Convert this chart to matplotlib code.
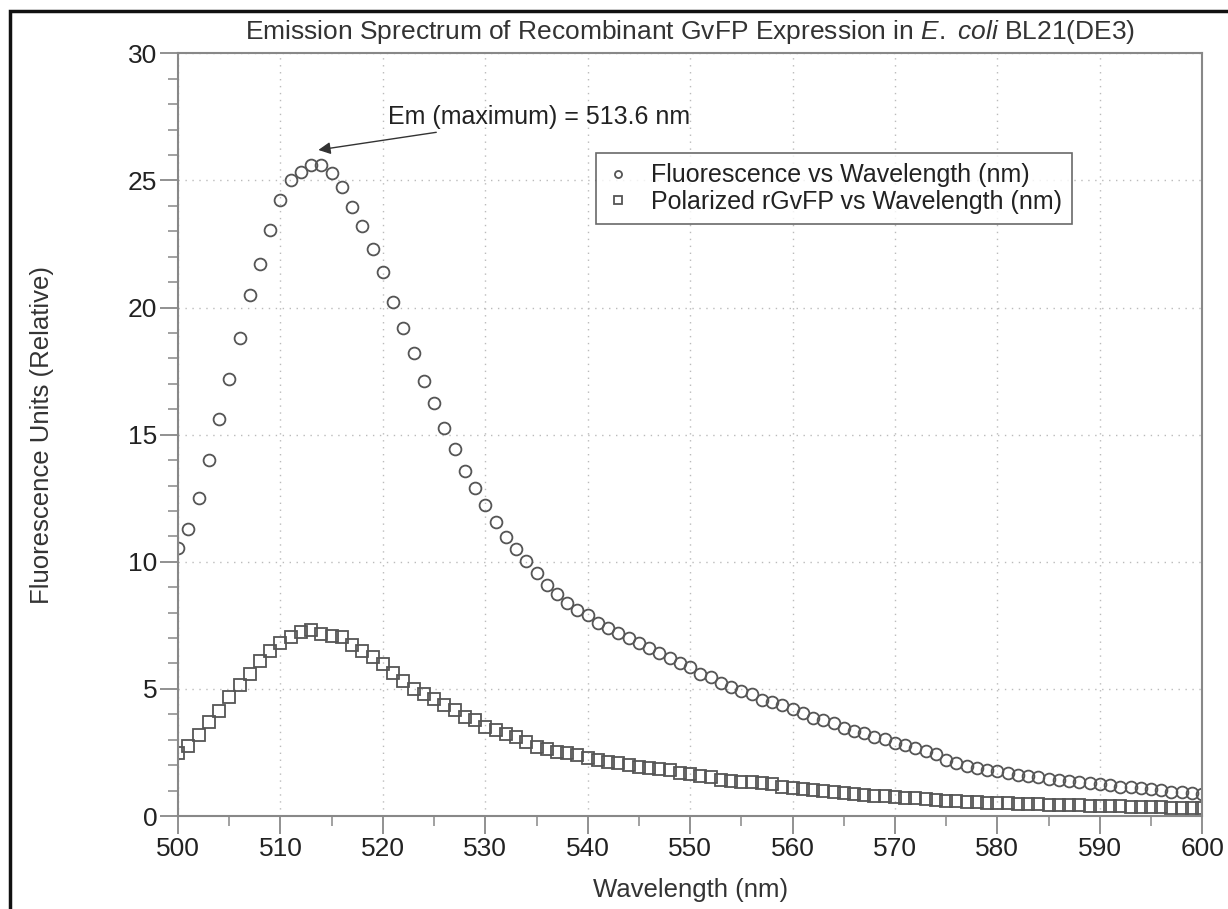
import numpy as np
import matplotlib
matplotlib.use("Agg")
import matplotlib.pyplot as plt
from matplotlib.patches import Rectangle
from matplotlib.ticker import MultipleLocator

plt.rcParams['font.family'] = ['Liberation Sans', 'DejaVu Sans']
plt.rcParams['mathtext.fontset'] = 'custom'
plt.rcParams['mathtext.rm'] = 'Liberation Sans'
plt.rcParams['mathtext.it'] = 'Liberation Sans:italic'

# wavelengths 500..600 nm, 1 nm step
wavelength = np.arange(500, 601)

fluorescence = [
    10.55, 11.3, 12.5, 14.0, 15.6, 17.2, 18.8, 20.5, 21.7, 23.05,
    24.25, 25.0, 25.35, 25.6, 25.6, 25.3, 24.75, 23.95, 23.2, 22.3,
    21.4, 20.2, 19.2, 18.2, 17.1, 16.25, 15.28, 14.45, 13.58, 12.92,
    12.24, 11.58, 10.96, 10.49, 10.04, 9.55, 9.09, 8.72, 8.39, 8.11,
    7.9, 7.58, 7.38, 7.19, 6.99, 6.79, 6.6, 6.43, 6.2, 6.0,
    5.87, 5.6, 5.47, 5.24, 5.08, 4.93, 4.8, 4.57, 4.5, 4.37,
    4.2, 4.04, 3.84, 3.78, 3.67, 3.45, 3.35, 3.28, 3.1, 3.02,
    2.89, 2.8, 2.66, 2.56, 2.42, 2.22, 2.1, 1.97, 1.88, 1.81,
    1.78, 1.68, 1.61, 1.57, 1.52, 1.44, 1.42, 1.38, 1.35, 1.29,
    1.26, 1.22, 1.15, 1.13, 1.09, 1.05, 1.02, 0.96, 0.93, 0.92,
    0.88,
]

polarized = [
    2.49, 2.76, 3.19, 3.71, 4.15, 4.7, 5.16, 5.6, 6.1, 6.5,
    6.79, 7.06, 7.22, 7.32, 7.17, 7.09, 7.06, 6.73, 6.5, 6.27,
    5.97, 5.63, 5.32, 5.01, 4.8, 4.6, 4.37, 4.17, 3.91, 3.78,
    3.52, 3.39, 3.23, 3.1, 2.92, 2.72, 2.62, 2.52, 2.46, 2.4,
    2.27, 2.2, 2.13, 2.1, 2.0, 1.94, 1.9, 1.86, 1.81, 1.7,
    1.65, 1.57, 1.55, 1.42, 1.39, 1.33, 1.32, 1.29, 1.26, 1.15,
    1.09, 1.05, 1.02, 1.0, 0.96, 0.89, 0.87, 0.83, 0.8, 0.78,
    0.74, 0.7, 0.69, 0.65, 0.63, 0.6, 0.58, 0.56, 0.55, 0.53,
    0.52, 0.5, 0.49, 0.47, 0.46, 0.45, 0.44, 0.43, 0.42, 0.41,
    0.4, 0.39, 0.38, 0.37, 0.36, 0.35, 0.34, 0.33, 0.32, 0.31,
    0.3,
]

peak_label = "Em (maximum) = 513.6 nm"

fig = plt.figure(figsize=(12.28, 9.09), dpi=100)
ax = fig.add_axes([0.145, 0.1023, 0.834, 0.839])

mk = dict(linestyle='none', markerfacecolor='none', markeredgecolor='#555555',
          markeredgewidth=1.3)
ax.plot(wavelength, fluorescence, marker='o', markersize=8.5,
        label='Fluorescence vs Wavelength (nm)', **mk)
ax.plot(wavelength, polarized, marker='s', markersize=9,
        label='Polarized rGvFP vs Wavelength (nm)', **mk)

ax.set_xlim(500, 600)
ax.set_ylim(0, 30)
ax.xaxis.set_major_locator(MultipleLocator(10))
ax.xaxis.set_minor_locator(MultipleLocator(5))
ax.yaxis.set_major_locator(MultipleLocator(5))
ax.yaxis.set_minor_locator(MultipleLocator(1))

ax.grid(True, which='major', linestyle=(0, (1, 4)), color='#bbbbbb', linewidth=1)
for s in ax.spines.values():
    s.set_color('#888888')
    s.set_linewidth(1.5)
ax.tick_params(which='major', direction='out', length=13, width=1.3,
               color='#888888', labelsize=19, pad=2, labelcolor='#222222')
ax.tick_params(which='minor', direction='out', length=7, width=1.1,
               color='#888888')

ax.set_xlabel('Wavelength (nm)', fontsize=18.5, color='#333333', labelpad=12)
ax.set_ylabel('Fluorescence Units (Relative)', fontsize=18.5, color='#333333',
              labelpad=53)

ax.set_title(r'Emission Sprectrum of Recombinant GvFP Expression in $\mathit{E.\ coli}$ BL21(DE3)',
             fontsize=19, color='#333333', pad=10)

ax.annotate(peak_label, xy=(513.7, 26.2), xytext=(520.5, 27.5),
            fontsize=18, color='#222222', va='center', ha='left',
            arrowprops=dict(arrowstyle='-|>', color='#333333', lw=1,
                            mutation_scale=18, shrinkA=3, shrinkB=0))

leg = ax.legend(loc='upper left', bbox_to_anchor=(0.408, 0.869), fontsize=18,
                markerscale=0.6, frameon=True, fancybox=False, handlelength=1,
                handletextpad=0.8, borderpad=0.4, labelspacing=0.1,
                borderaxespad=0)
leg.get_frame().set_edgecolor('#444444')
leg.get_frame().set_linewidth(1.2)
for t in leg.get_texts():
    t.set_color('#222222')

# black frame around the figure (open at right/bottom edges as in source)
fig.patches.append(Rectangle((10 / 1228, -0.1), 1.2, 1 - 11 / 909 + 0.1,
                             transform=fig.transFigure, fill=False,
                             edgecolor='#111111', linewidth=2.5))

fig.savefig('out.png', dpi=100)
